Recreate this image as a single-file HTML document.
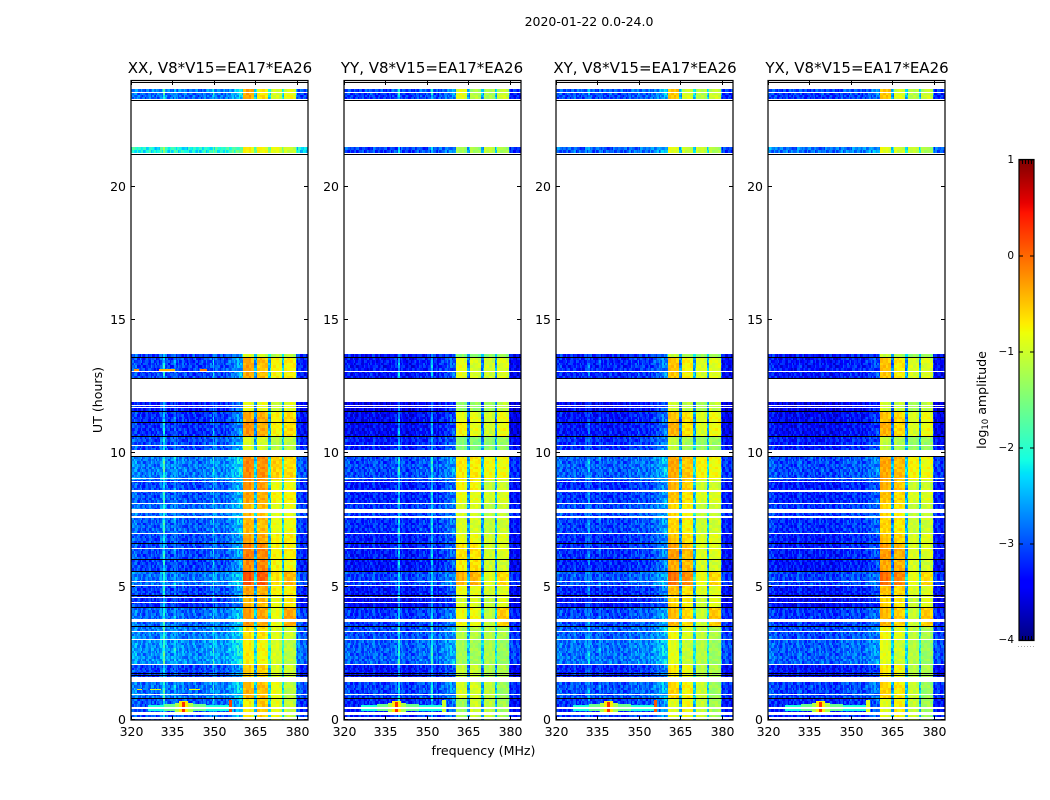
<!DOCTYPE html>
<html><head><meta charset="utf-8"><title>Spectrogram</title>
<style>html,body{margin:0;padding:0;background:#fff}svg{display:block}text{font-family:"DejaVu Sans","Liberation Sans",sans-serif;fill:#000}</style>
</head><body>
<svg id="fig" width="1050" height="800" viewBox="0 0 1050 800" xmlns="http://www.w3.org/2000/svg">
<rect width="1050" height="800" fill="#fff"/>
<text x="589" y="26" font-size="12.5" text-anchor="middle">2020-01-22 0.0-24.0</text>
<text x="220" y="73" font-size="15" text-anchor="middle">XX, V8*V15=EA17*EA26</text>
<text x="432" y="73" font-size="15" text-anchor="middle">YY, V8*V15=EA17*EA26</text>
<text x="645" y="73" font-size="15" text-anchor="middle">XY, V8*V15=EA17*EA26</text>
<text x="857" y="73" font-size="15" text-anchor="middle">YX, V8*V15=EA17*EA26</text>
<text x="483.5" y="755" font-size="12.6" text-anchor="middle">frequency (MHz)</text>
<text x="0" y="0" font-size="12.6" text-anchor="middle" transform="translate(102,400) rotate(-90)">UT (hours)</text>
<text x="0" y="0" font-size="12.6" text-anchor="middle" transform="translate(986,400) rotate(-90)">log<tspan font-size="8.5" dy="2">10</tspan><tspan dy="-2"> amplitude</tspan></text>
<g id="panels"></g>
<g id="cbar"></g>
</svg>
<script>
// ---- axis data ----
const xTicks = [320, 335, 350, 365, 380];
const yTicks = [0, 5, 10, 15, 20];
const colorbarTicks = [1, 0, -1, -2, -3, -4];
const colorbarLabels = ['1', '0', '\u22121', '\u22122', '\u22123', '\u22124'];
const polarizations = ['xx', 'yy', 'xy', 'yx'];
const firstChannel = 320;

// ---- log10 amplitude per channel (320..384 MHz), one array per panel ----
const profileXX = [-2.95,-2.85,-2.85,-2.95,-2.95,-3.05,-2.95,-2.95,-2.95,-3.05, -2.95,-2.85,-2.1,-2.85,-2.95,-2.95,-2.6,-2.95,-2.95,-2.95, -2.95,-3.05,-3.05,-2.95,-2.95,-3.05,-2.95,-2.95,-2.95,-2.85, -2.3,-2.85,-2.95,-2.95,-2.85,-2.85,-2.75,-2.7,-2.6,-2.5, -2.4, -0.5,-0.4,-0.4,-0.5, -2.5, -0.5,-0.45,-0.45,-0.5, -2.3, -0.8,-0.75,-0.75,-0.8, -2.3, -0.75,-0.7,-0.7,-0.75, -2.7,-3.1,-3.2,-3.2,-3.1];
const profileYY = [-3.25,-3.15,-3.15,-3.25,-3.25,-3.25,-3.15,-3.25,-3.25,-3.25, -3.15,-3.15,-3.25,-3.25,-3.15,-3.25,-3.25,-3.25,-3.15,-3.15, -2.3,-3.15,-3.25,-3.25,-3.25,-3.25,-3.15,-3.15,-3.05,-3.15, -3.15,-3.15,-2.4,-3.15,-3.15,-3.05,-3.05,-2.95,-2.95,-2.85, -2.75, -1.0,-0.95,-0.95,-1.0, -2.7, -0.95,-0.95,-0.95,-1.0, -2.6, -1.0,-1.0,-1.0,-1.0, -2.5, -0.95,-0.9,-0.9,-0.95, -3.0,-3.4,-3.4,-3.4,-3.3];
const profileXY = [-3.05,-3.05,-3.05,-3.15,-3.15,-3.15,-3.05,-3.05,-3.15,-3.15, -3.15,-3.05,-2.7,-3.05,-3.15,-3.15,-2.85,-3.15,-3.15,-3.15, -3.05,-3.15,-3.15,-3.15,-3.05,-3.15,-3.15,-3.05,-3.05,-3.05, -2.85,-3.05,-3.05,-3.05,-2.95,-2.95,-2.85,-2.85,-2.75,-2.65, -2.55, -0.6,-0.6,-0.6,-0.6, -2.6, -0.75,-0.75,-0.75,-0.75, -2.4, -0.95,-0.95,-0.95,-0.95, -2.4, -0.9,-0.9,-0.9,-0.9, -2.85,-3.35,-3.35,-3.35,-3.25];
const profileYX = [-3.05,-3.05,-3.15,-3.15,-3.25,-3.25,-3.15,-3.25,-3.25,-3.25, -3.25,-3.15,-3.15,-3.25,-3.25,-3.25,-3.15,-3.25,-3.25,-3.25, -3.15,-3.25,-3.25,-3.25,-3.25,-3.25,-3.25,-3.15,-3.15,-3.15, -3.05,-3.15,-3.15,-3.15,-3.15,-3.15,-3.05,-3.05,-2.95,-2.95, -2.85, -0.6,-0.6,-0.6,-0.6, -2.7, -0.7,-0.7,-0.7,-0.7, -2.5, -0.95,-0.95,-0.95,-0.95, -2.5, -0.95,-0.9,-0.9,-0.95, -2.95,-3.35,-3.35,-3.35,-3.25];

// ---- time bands (hours) and gain offsets per band ----
const bandStart = [0,0.8,1.6,2.1,3.04,3.5,4.23,4.67,5.04,5.58,6.02,6.62,7.0,7.6,8.15,8.62,9.0,10.1,10.63,11.16,11.59,12.8,13.6,21.25,23.27,23.56];
const bandEnd = [0.8,1.42,2.06,3.0,3.5,4.23,4.67,5.04,5.58,6.02,6.62,7.0,7.6,8.15,8.62,9.0,9.9,10.63,11.16,11.59,11.93,13.6,13.72,21.47,23.52,23.67];
const bgGain = [0,.15,-.1,.3,.2,.1,-.2,-.1,.15,-.1,-.05,-.05,.05,.1,0,-.05,.2,-.05,-.2,-.2,-.3,-.1,-.1,.1,.1,.2];
const sub1Gain = [-.3,0,-.1,-.3,-.2,.15,0,.1,.55,.25,.3,.1,0,0,.1,.2,.25,-.5,.2,.1,-.4,.1,-.5,-.3,.1,.1];
const sub2Gain = [-.05,0,-.1,-.3,-.2,.15,0,.1,.55,.3,.3,.1,0,0,.1,.2,.25,-.5,.1,.1,-.4,0,-.5,-.3,-.2,-.3];
const sub3Gain = [-.1,-.1,-.2,-.2,-.15,-.1,-.1,0,.1,0,0,0,-.1,-.15,0,-.1,.2,-.4,0,0,-.3,0,-.4,-.1,-.2,-.2];
const sub4Gain = [-.35,-.4,-.3,-.4,-.3,.4,0,0,.3,-.1,0,0,-.1,-.15,0,-.1,.1,-.4,.1,.1,-.2,0,-.4,-.3,-.1,-.2];
// extra background level of the 21.3 h band, one value per panel
const lateBandBoost = [0.75, 0.05, 0.1, 0.3];
const lateBandIndex = 23;

// ---- channel speckle read as digits, 4.5 = no change ----
const speckle = [
"37259461836204759318264075923184670295381746029583174602958316740",
"62814073592846103759284610375928461037592846183720495816273049581",
"15938274061829374650182937465018293746501829374650912837465019283",
"84026159374826015937482601593748260159374826159037482615903748261",
"29573816402957381640295738164029573816402957318640295731864029573",
"70361849250736184925073618492507361849250736184295073618429507361",
"46192537804619253780461925378046192537804619235780461923578046192",
"93804716259380471625938047162593804716259380476125938047612593804",
"51728360945172836094517283609451728360945172830694517283069451728",
"08465927310846592731084659273108465927310846597231084659723108465",
"36917042583691704258369170425836917042583691740258369174025836917",
"72540861397254086139725408613972540861397254806139725480613972540"];

// ---- lines of missing data (hours) ----
const gapStart = [0.056,0.2,0.43,0.92,1.42,2.06,3.0,3.3,3.67,4.37,4.56,5.04,5.17,6.4,6.99,7.59,7.76,8.11,8.55,8.94,9.03,9.9,10.28,11.68,11.78,11.93,13.03,13.72,21.47,23.52,23.67];
const gapEnd = [0.094,0.3,0.47,0.96,1.6,2.1,3.04,3.34,3.79,4.41,4.6,5.08,5.23,6.46,7.03,7.66,7.92,8.15,8.62,8.98,9.07,10.14,10.32,11.72,11.82,12.8,13.07,21.25,23.27,23.56,23.96];
const zeroLineHours = [23.92,23.24,21.23,13.6,12.81,11.59,11.16,10.63,9.9,6.62,6.02,5.58,4.67,4.23,3.51,1.77,1.67,0.81];

// ---- localized bright features, panel -1 means all panels ----
const patchPanel = [-1,-1,-1,-1,-1,-1,0,1,2,3,0,0,0,0,0,0];
const patchFreqStart = [326,332,336,337.5,338.5,338.5,355.5,355.5,355.5,355.5,321,330,345,322,327,341];
const patchFreqEnd = [356,347,342.5,340.5,339.5,339.5,356.5,357,356.5,357,323,336,347.5,324,331,345];
const patchHourStart = [0.33,0.33,0.3,0.25,0.3,0.48,0.25,0.25,0.25,0.25,13.1,13.1,13.1,1.13,1.13,1.13];
const patchHourEnd = [0.58,0.6,0.62,0.7,0.42,0.66,0.75,0.75,0.75,0.75,13.15,13.15,13.15,1.17,1.17,1.17];
const patchValue = [-2.1,-1.6,-1.2,-0.7,0.3,0.3,0.2,-1.0,0.1,-0.9,-0.2,-0.4,-0.1,-0.7,-0.9,-0.8];

// ---- layout ----
const panelLeft = [131, 344, 556, 768];
const panelW = 177, axTop = 81, axBottom = 720, hourPx = 26.67;
const NS = 'http://www.w3.org/2000/svg';
const profiles = [profileXX, profileYY, profileXY, profileYX];
const subGains = [sub1Gain, sub2Gain, sub3Gain, sub4Gain];

const xScale = (f, p) => panelLeft[p] + (f - firstChannel) / 64 * panelW;
const yScale = h => axBottom - h * hourPx;

function lerp(pts, t) {
  for (let i = 1; i < pts.length; i++) {
    if (t <= pts[i][0]) {
      const a = pts[i - 1], b = pts[i];
      return a[1] + (b[1] - a[1]) * (t - a[0]) / (b[0] - a[0]);
    }
  }
  return pts[pts.length - 1][1];
}
function jet(v) {
  const t = Math.max(0, Math.min(1, (v + 4) / 5));
  const r = lerp([[0,0],[.35,0],[.66,1],[.89,1],[1,.5]], t);
  const g = lerp([[0,0],[.125,0],[.375,1],[.64,1],[.91,0],[1,0]], t);
  const b = lerp([[0,.5],[.11,1],[.34,1],[.65,0],[1,0]], t);
  return 'rgb(' + Math.round(r * 255) + ',' + Math.round(g * 255) + ',' + Math.round(b * 255) + ')';
}
function segmentOf(f) {
  if (f >= 361 && f <= 364) return 0;
  if (f >= 366 && f <= 369) return 1;
  if (f >= 371 && f <= 374) return 2;
  if (f >= 376 && f <= 379) return 3;
  return -1;
}
function box(parent, x0, y0, x1, y1, fill) {
  const el = document.createElementNS(NS, 'rect');
  el.setAttribute('x', x0);
  el.setAttribute('y', y0);
  el.setAttribute('width', x1 - x0);
  el.setAttribute('height', y1 - y0);
  el.setAttribute('fill', fill);
  el.setAttribute('shape-rendering', 'crispEdges');
  parent.appendChild(el);
  return el;
}
function label(parent, x, y, txt, anchor, size) {
  const el = document.createElementNS(NS, 'text');
  el.setAttribute('x', x);
  el.setAttribute('y', y);
  el.setAttribute('font-size', size);
  el.setAttribute('text-anchor', anchor);
  el.textContent = txt;
  parent.appendChild(el);
  return el;
}

const panelsRoot = document.getElementById('panels');
polarizations.forEach((pol, p) => {
  const g = document.createElementNS(NS, 'g');
  
  
  panelsRoot.appendChild(g);
  const xMax = panelLeft[p] + panelW;
  const profile = profiles[p];

  // heatmap cells: background channels are drawn as two half-channel cells
  let rowCount = 0;
  bandStart.forEach((start, b) => {
    const rows = Math.max(1, Math.round((bandEnd[b] - start) / 0.1));
    const boost = b === lateBandIndex ? lateBandBoost[p] : 0;
    for (let r = 0; r < rows; r++) {
      const h0 = start + (bandEnd[b] - start) * r / rows;
      const h1 = start + (bandEnd[b] - start) * (r + 1) / rows;
      const y1 = Math.round(yScale(h0));
      const y0 = Math.round(yScale(h1));
      const texA = speckle[rowCount % speckle.length];
      const texB = speckle[(rowCount + 5) % speckle.length];
      rowCount++;
      if (y1 <= y0) continue;
      profile.forEach((level, c) => {
        const f = firstChannel + c;
        const seg = segmentOf(f);
        const x0 = Math.round(Math.max(panelLeft[p], xScale(f - 0.5, p)));
        const x1 = Math.round(Math.min(xMax, xScale(f + 0.5, p)));
        if (seg >= 0) {
          const noise = (+(texA.charAt(c) || 4) - 4.5) * 0.03;
          const cell = box(g, x0, y0, x1, y1, jet(level + subGains[seg][b] + noise));
          
          
        } else {
          const xm = Math.round((x0 + x1) / 2);
          const next = c + 1 < profile.length ? profile[c + 1] : level;
          const noiseA = (+(texA.charAt(c) || 4) - 4.5) * 0.07;
          const noiseB = (+(texB.charAt(c) || 4) - 4.5) * 0.07;
          const cellA = box(g, x0, y0, xm, y1, jet(level + bgGain[b] + boost + noiseA));
          
          
          const cellB = box(g, xm, y0, x1, y1, jet(Math.min(level, next) + bgGain[b] + boost + noiseB));
          
          
        }
      });
    }
  });

  // localized features
  patchValue.forEach((val, i) => {
    if (patchPanel[i] !== -1 && patchPanel[i] !== p) return;
    const patch = box(g, Math.round(xScale(patchFreqStart[i], p)), Math.round(yScale(patchHourEnd[i])), Math.round(xScale(patchFreqEnd[i], p)), Math.round(yScale(patchHourStart[i])), jet(val));
    
    
  });

  // missing data
  gapStart.forEach((start, i) => {
    const y1 = yScale(start), y0 = yScale(gapEnd[i]);
    const gap = box(g, panelLeft[p], Math.round(y0), xMax, Math.max(Math.round(y1), Math.round(y0) + 1), '#fff');
    
    
  });
  zeroLineHours.forEach(h => {
    const y = Math.round(yScale(h));
    const line = box(g, panelLeft[p], y, xMax, y + 1, '#000');
    
    
  });

  // frame
  const frame = document.createElementNS(NS, 'rect');
  
  
  frame.setAttribute('x', panelLeft[p]);
  frame.setAttribute('y', axTop - 0.5);
  frame.setAttribute('width', panelW);
  frame.setAttribute('height', axBottom - axTop + 0.5);
  frame.setAttribute('fill', 'none');
  frame.setAttribute('stroke', '#000');
  frame.setAttribute('stroke-width', '1.2');
  g.appendChild(frame);

  // ticks
  xTicks.forEach(t => {
    const x = Math.round(xScale(t, p));
    const bottom = box(g, x, axBottom - 4, x + 1, axBottom, '#000');
    
    
    const top = box(g, x, axTop, x + 1, axTop + 4, '#000');
    
    
    const lab = label(g, x + 0.5, 736, String(t), 'middle', 12.5);
    
    
  });
  yTicks.forEach(t => {
    const y = Math.round(yScale(t));
    const left = box(g, panelLeft[p], y - 1, panelLeft[p] + 4, y, '#000');
    
    
    const right = box(g, xMax - 4, y - 1, xMax, y, '#000');
    
    
    const lab = label(g, panelLeft[p] - 5, y + 4, String(t), 'end', 12.5);
    
    
  });
});

// colorbar
const cb = document.getElementById('cbar');
const cbX0 = 1019, cbX1 = 1034, cbTop = 160, cbBottom = 640;
const cbScale = v => cbTop + (1 - v) / 5 * (cbBottom - cbTop);
for (let y = cbTop; y < cbBottom; y++) {
  const v = 1 - (y + 0.5 - cbTop) / (cbBottom - cbTop) * 5;
  const strip = box(cb, cbX0, y, cbX1, y + 1, jet(v));
  
  
}
const cbFrame = document.createElementNS(NS, 'rect');


cbFrame.setAttribute('x', cbX0);
cbFrame.setAttribute('y', cbTop - 0.5);
cbFrame.setAttribute('width', cbX1 - cbX0);
cbFrame.setAttribute('height', cbBottom - cbTop + 1);
cbFrame.setAttribute('fill', 'none');
cbFrame.setAttribute('stroke', '#000');
cbFrame.setAttribute('stroke-width', '1.2');
cb.appendChild(cbFrame);
colorbarTicks.forEach((t, i) => {
  const y = Math.round(cbScale(t));
  const l = box(cb, cbX0, y - 0.5, cbX0 + 4, y + 0.5, '#000');
  
  
  const r = box(cb, cbX1 - 4, y - 0.5, cbX1, y + 0.5, '#000');
  
  
  const lab = label(cb, cbX0 - 5, y + 3, colorbarLabels[i], 'end', 10.5);
  
  
});
[1022, 1025, 1028, 1031].forEach(x => {
  const t = box(cb, x, cbTop, x + 1, cbTop + 4, '#000');
  
  
  const b = box(cb, x, cbBottom - 4, x + 1, cbBottom, '#000');
  
  
});
[1018, 1021, 1024, 1027, 1030, 1033].forEach(x => {
  const d = box(cb, x, 646, x + 1, 647, '#aaa');
  
  
});
</script>
</body></html>
